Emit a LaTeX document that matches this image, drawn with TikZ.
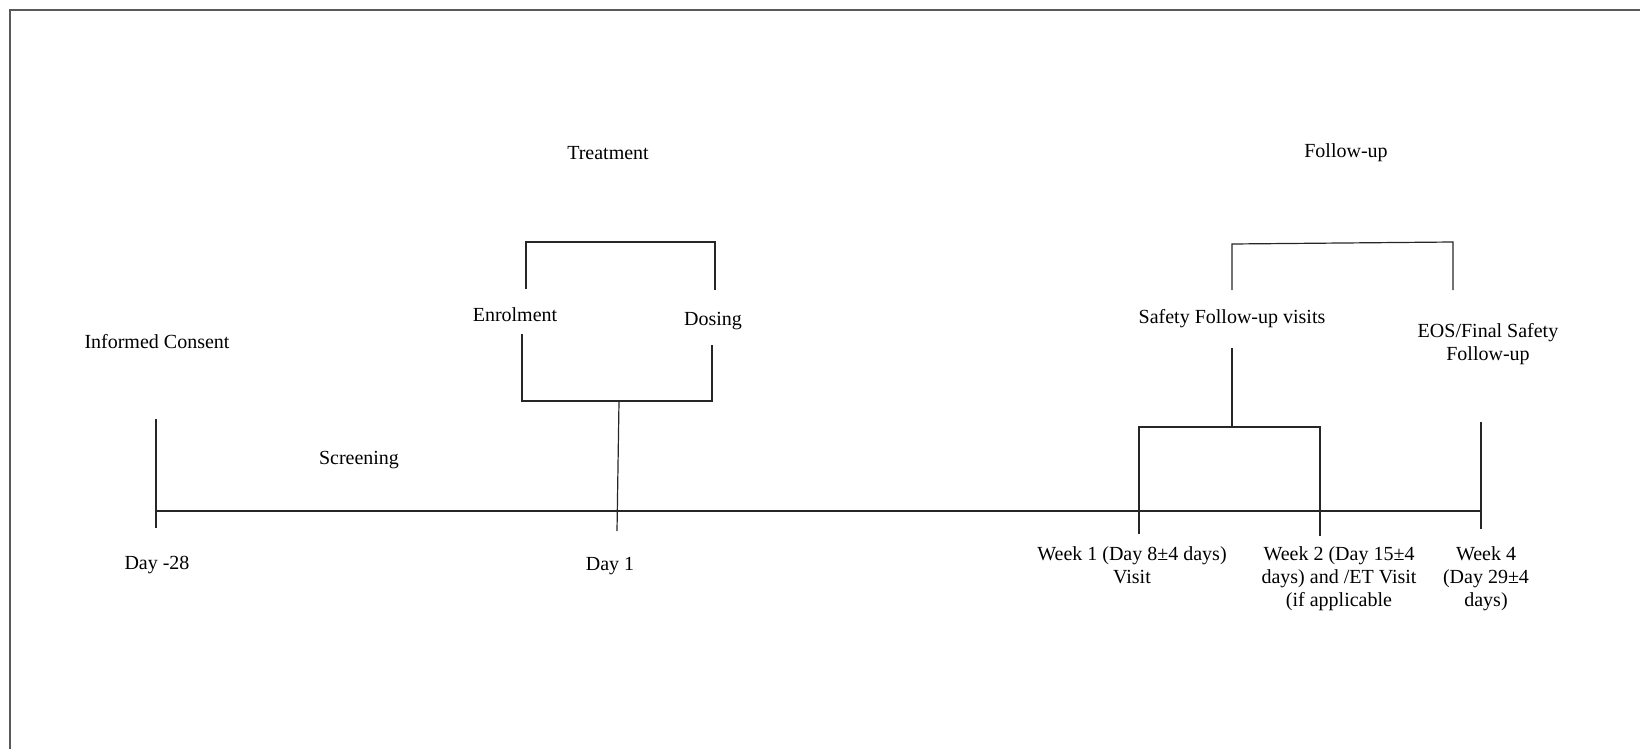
\documentclass[tikz,border=0pt]{standalone}
\usepackage{fontspec}
\setmainfont{Liberation Serif}
\usepackage{tikz}

\begin{document}
\begin{tikzpicture}[
		x=1pt, y=-1pt,
		every node/.style={inner sep=0pt, align=center, font=\fontsize{20}{23}\selectfont},
		bline/.style={line width=1.2pt, draw=black!85}
	]
  \useasboundingbox (0, 0) rectangle (1640, 749);
  % frame
  \coordinate (f_l) at (10, 749);
  \coordinate (f_c) at (10, 10);
  \coordinate (f_r) at (1640, 10);
  \draw [draw=black!65, line width=1.5pt] (f_l) -- (f_c) -- (f_r);
  % phase labels
  \node (treat) at (608, 153) {Treatment};
  \node (fu) at (1346, 153) {Follow-up};
  \node (consent) at (157, 342) {Informed Consent};
  \node (enrol) at (515, 315) {Enrolment};
  \node (dose) at (713, 321) {Dosing};
  \node (safety) at (1232, 319) {Safety Follow-up visits};
  \node (eos) at (1488, 344) {EOS/Final Safety\\Follow-up};
  \node (screen) at (359, 460) {Screening};
  % timeline labels
  \node (d_28) at (157, 565) {Day -28};
  \node (d_1) at (610, 566) {Day 1};
  \node (wk_1) at (1132, 565) {Week 1 (Day 8±4 days)\\Visit};
  \node (wk_2) at (1339, 579) {Week 2 (Day 15±4\\days) and /ET Visit\\(if applicable};
  \node (wk_4) at (1486, 579) {Week 4\\(Day 29±4\\days)};
  % treatment brackets
  \coordinate (t_a) at (526, 289);
  \coordinate (t_b) at (526, 242);
  \coordinate (t_c) at (715, 242);
  \coordinate (t_d) at (715, 290);
  \coordinate (e_a) at (522, 334);
  \coordinate (e_b) at (522, 401);
  \coordinate (e_c) at (712, 401);
  \coordinate (e_d) at (712, 345);
  \coordinate (e_s) at (619, 401);
  \coordinate (e_t) at (617, 531);
  % follow-up brackets
  \coordinate (u_a) at (1232, 290);
  \coordinate (u_b) at (1232, 244);
  \coordinate (u_c) at (1453, 242);
  \coordinate (u_d) at (1453, 290);
  \coordinate (s_s) at (1232, 348);
  \coordinate (s_t) at (1232, 427);
  \coordinate (s_a) at (1139, 534);
  \coordinate (s_b) at (1139, 427);
  \coordinate (s_c) at (1320, 427);
  \coordinate (s_d) at (1320, 536);
  % timeline
  \coordinate (l_0) at (156, 511);
  \coordinate (l_1) at (1481, 511);
  \coordinate (k_0) at (156, 419);
  \coordinate (k_1) at (156, 528);
  \coordinate (k_2) at (1481, 422);
  \coordinate (k_3) at (1481, 529);
  \draw [bline] (t_a) -- (t_b) -- (t_c) -- (t_d);
  \draw [bline] (e_a) -- (e_b) -- (e_c) -- (e_d);
  \draw [bline] (e_s) -- (e_t);
  \draw [bline] (u_a) -- (u_b) -- (u_c) -- (u_d);
  \draw [bline] (s_s) -- (s_t);
  \draw [bline] (s_a) -- (s_b) -- (s_c) -- (s_d);
  \draw [bline] (l_0) -- (l_1);
  \draw [bline] (k_0) -- (k_1);
  \draw [bline] (k_2) -- (k_3);
\end{tikzpicture}
\end{document}
